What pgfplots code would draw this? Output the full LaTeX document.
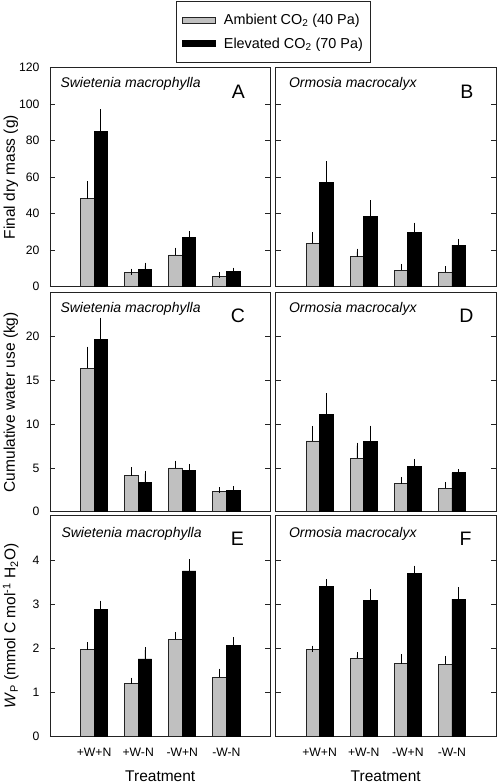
\documentclass[border=0pt]{standalone}
\usepackage{fontspec}
\setmainfont{Liberation Sans}
\usepackage{pgfplots}
\pgfplotsset{compat=1.18}
\definecolor{barg}{RGB}{192,192,192}
\definecolor{edgec}{RGB}{35,35,35}

\tikzset{
 spec/.style={anchor=base west, font=\fontsize{14}{16}\selectfont\itshape},
 letter/.style={anchor=base east, font=\fontsize{19.5}{21}\selectfont},
}
\pgfplotsset{
 panel/.style={
  scale only axis, width=220.5pt,
  xmin=0, xmax=5, ymin=0,
  axis line style={line width=0.9pt, draw=edgec},
  tick align=inside, ytick pos=both, yticklabel pos=left,
  major tick length=5.5pt,
  tick style={line width=0.8pt, color=edgec},
  xtick={1,2,3,4}, xtick style={draw=none},
  xticklabels={},
  ybar=0pt, bar width=13.5pt,
  tick label style={font=\fontsize{12.2}{14}\selectfont},
  yticklabel style={xshift=-7pt},
  xticklabel style={yshift=-2pt},
  /pgf/number format/assume math mode=true,
  label style={font=\fontsize{15.5}{18}\selectfont},
  ylabel style={at={(axis description cs:-0.178,0.5)}, anchor=center},
  xlabel style={at={(axis description cs:0.5,-0.178)}, anchor=center},
  error bars/y dir=plus, error bars/y explicit,
  error bars/error bar style={line width=0.8pt, black},
  error bars/error mark options={line width=0.8pt, black, mark size=3pt},
 },
 amb/.style={fill=barg, draw=edgec, line width=0.8pt},
 ele/.style={fill=black, draw=black, line width=0.8pt},
 bottomx/.style={xticklabels={+W+N,+W-N,-W+N,-W-N}, xlabel={Treatment}},
}

\begin{document}
\begin{tikzpicture}
\useasboundingbox (0,0) rectangle (498pt,-784pt);

% ---------- A ----------
\begin{axis}[panel, at={(50pt,-67.7pt)}, anchor=north west, height=219pt,
  ymax=120, ytick={0,20,...,120}, ylabel={Final dry mass (g)},
  legend image code/.code={\draw[#1] (0pt,-3pt) rectangle (33pt,3pt);},
  legend style={at={(1.0136,1.3046)}, anchor=north, draw=edgec, line width=0.8pt,
    font=\fontsize{14.4}{16}\selectfont, inner xsep=6pt, inner ysep=11pt,
    row sep=7.5pt, legend cell align=left,
    /tikz/every odd column/.append style={column sep=6pt}},
  ]
\addplot[amb] coordinates {(1,48.2) +- (0,7.9) (2,7.7) +- (0,0.6) (3,17.4) +- (0,2.3) (4,5.7) +- (0,0.5)};
\addlegendentry{Ambient CO\textsubscript{2} (40 Pa)}
\addplot[ele] coordinates {(1,85.3) +- (0,10.4) (2,9.5) +- (0,2.0) (3,26.8) +- (0,1.9) (4,8.2) +- (0,0.6)};
\addlegendentry{Elevated CO\textsubscript{2} (70 Pa)}
\node[spec] at (rel axis cs:0,1) [xshift=7pt, yshift=-20pt] {Swietenia macrophylla};
\node[letter] at (rel axis cs:1,1) [xshift=-22pt, yshift=-30.5pt] {A};
\end{axis}

% ---------- B ----------
\begin{axis}[panel, at={(275.5pt,-67.7pt)}, anchor=north west, height=219pt,
  ymax=120, ytick={0,20,...,120}, yticklabels={}]
\addplot[amb] coordinates {(1,23.9) +- (0,4.2) (2,16.4) +- (0,2.8) (3,8.9) +- (0,1.9) (4,8.0) +- (0,1.5)};
\addplot[ele] coordinates {(1,57.2) +- (0,9.8) (2,38.5) +- (0,7.3) (3,29.8) +- (0,3.6) (4,22.8) +- (0,1.7)};
\node[spec] at (rel axis cs:0,1) [xshift=10pt, yshift=-20pt] {Ormosia macrocalyx};
\node[letter] at (rel axis cs:1,1) [xshift=-19pt, yshift=-30.5pt] {B};
\end{axis}

% ---------- C ----------
\begin{axis}[panel, at={(50pt,-292.7pt)}, anchor=north west, height=219pt,
  ymax=25, ytick={0,5,10,15,20}, ylabel={Cumulative water use (kg)}]
\addplot[amb] coordinates {(1,16.4) +- (0,2.1) (2,4.1) +- (0,0.65) (3,5.0) +- (0,0.5) (4,2.31) +- (0,0.12)};
\addplot[ele] coordinates {(1,19.7) +- (0,2.1) (2,3.38) +- (0,0.95) (3,4.7) +- (0,0.42) (4,2.47) +- (0,0.11)};
\node[spec] at (rel axis cs:0,1) [xshift=7pt, yshift=-20pt] {Swietenia macrophylla};
\node[letter] at (rel axis cs:1,1) [xshift=-22pt, yshift=-29.5pt] {C};
\end{axis}

% ---------- D ----------
\begin{axis}[panel, at={(275.5pt,-292.7pt)}, anchor=north west, height=219pt,
  ymax=25, ytick={0,5,10,15,20}, yticklabels={}]
\addplot[amb] coordinates {(1,8.08) +- (0,1.37) (2,6.1) +- (0,1.45) (3,3.19) +- (0,0.42) (4,2.69) +- (0,0.38)};
\addplot[ele] coordinates {(1,11.1) +- (0,2.1) (2,7.97) +- (0,1.52) (3,5.12) +- (0,0.57) (4,4.44) +- (0,0.08)};
\node[spec] at (rel axis cs:0,1) [xshift=10pt, yshift=-20pt] {Ormosia macrocalyx};
\node[letter] at (rel axis cs:1,1) [xshift=-19pt, yshift=-29.5pt] {D};
\end{axis}

% ---------- E ----------
\begin{axis}[panel, bottomx, at={(50pt,-515.7pt)}, anchor=north west, height=221pt,
  ymax=5, ytick={0,1,2,3,4},
  ylabel={\textit{W}\textsubscript{P} (mmol C mol\textsuperscript{-1} H\textsubscript{2}O)}]
\addplot[amb] coordinates {(1,1.97) +- (0,0.1) (2,1.2) +- (0,0.07) (3,2.2) +- (0,0.09) (4,1.34) +- (0,0.13)};
\addplot[ele] coordinates {(1,2.88) +- (0,0.13) (2,1.76) +- (0,0.2) (3,3.75) +- (0,0.2) (4,2.06) +- (0,0.12)};
\node[spec] at (rel axis cs:0,1) [xshift=8pt, yshift=-22pt] {Swietenia macrophylla};
\node[letter] at (rel axis cs:1,1) [xshift=-23pt, yshift=-29.5pt] {E};
\end{axis}

% ---------- F ----------
\begin{axis}[panel, bottomx, at={(275.5pt,-515.7pt)}, anchor=north west, height=221pt,
  ymax=5, ytick={0,1,2,3,4}, yticklabels={}]
\addplot[amb] coordinates {(1,1.97) +- (0,0.02) (2,1.77) +- (0,0.07) (3,1.65) +- (0,0.15) (4,1.64) +- (0,0.12)};
\addplot[ele] coordinates {(1,3.40) +- (0,0.1) (2,3.09) +- (0,0.18) (3,3.70) +- (0,0.1) (4,3.11) +- (0,0.2)};
\node[spec] at (rel axis cs:0,1) [xshift=10pt, yshift=-22pt] {Ormosia macrocalyx};
\node[letter] at (rel axis cs:1,1) [xshift=-21pt, yshift=-29.5pt] {F};
\end{axis}
\end{tikzpicture}
\end{document}
